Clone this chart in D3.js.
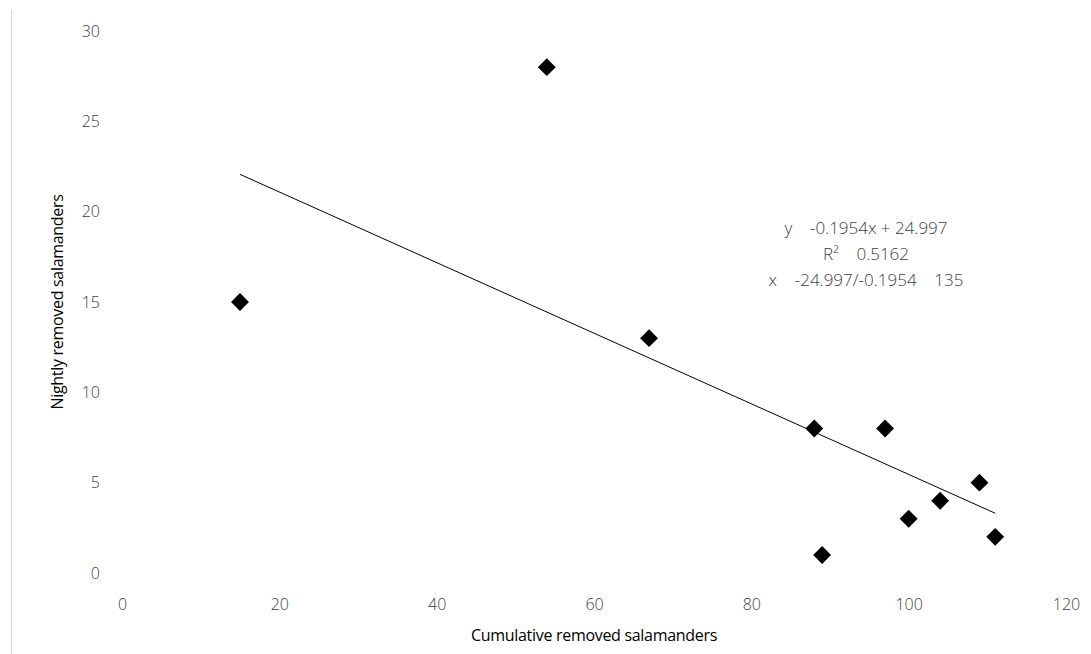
<!DOCTYPE html>
<html>
<head>
<meta charset="utf-8">
<script src="https://cdn.jsdelivr.net/npm/d3@7"></script>
<style>
	body { margin: 0; background: #fff; }
	.tick text { font-family: "Open Sans", Lato, sans-serif; font-size: 16px; font-weight: 300; fill: #404040; }
	.title { font-family: "Open Sans", Lato, sans-serif; font-size: 16px; fill: #000; letter-spacing: -0.3px; }
	.eq { font-family: "Open Sans", Lato, sans-serif; font-size: 17px; font-weight: 300; fill: #404040; white-space: pre; }
</style>
</head>
<body>
<div id="chart"></div>
<script>
// cumulative removed (x) and nightly removed (y)
var cumulative = [15, 54, 67, 88, 89, 97, 100, 104, 109, 111];
var nightly    = [15, 28, 13, 8, 1, 8, 3, 4, 5, 2];
var xTicks = [0, 20, 40, 60, 80, 100, 120];
var yTicks = [0, 5, 10, 15, 20, 25, 30];
var slope = -0.1954, intercept = 24.997;
var eqLines = ['y    -0.1954x + 24.997', 'R\u00b2    0.5162', 'x    -24.997/-0.1954    135'];

var width = 1091, height = 654;
var margin = {top: 31, right: 25, bottom: 81, left: 122};

var svg = d3.select('#chart').append('svg')
	.attr('width', width)
	.attr('height', height);

// chart border edge
svg.append('line')
	.attr('x1', 11.5).attr('x2', 11.5)
	.attr('y1', 10).attr('y2', height)
	.attr('stroke', '#d9d9d9');

var x = d3.scaleLinear().domain([0, 120]).range([margin.left, width - margin.right]);
var y = d3.scaleLinear().domain([0, 30]).range([height - margin.bottom, margin.top]);

var xAxis = svg.append('g')
	.attr('transform', 'translate(0,' + (height - margin.bottom) + ')')
	.call(d3.axisBottom(x).tickValues(xTicks).tickSize(0).tickPadding(26));
xAxis.select('.domain').remove();

var yAxis = svg.append('g')
	.attr('transform', 'translate(' + margin.left + ',0)')
	.call(d3.axisLeft(y).tickValues(yTicks).tickSize(0).tickPadding(22));
yAxis.select('.domain').remove();

// trend line
var line = d3.line()
	.x(function (d) { return x(d); })
	.y(function (d) { return y(slope * d + intercept); });
svg.append('path')
	.attr('d', line(d3.extent(cumulative)))
	.attr('fill', 'none')
	.attr('stroke', '#000')
	.attr('stroke-width', 1);

// points
var diamond = d3.symbol().type(d3.symbolSquare).size(160);
svg.selectAll('.pt')
	.data(cumulative)
	.enter().append('path')
		.attr('class', 'pt')
		.attr('d', diamond)
		.attr('transform', function (d, i) { return 'translate(' + x(d) + ',' + y(nightly[i]) + ') rotate(45)'; })
		.attr('fill', '#000');

// equation text
svg.selectAll('.eq')
	.data(eqLines)
	.enter().append('text')
		.attr('class', 'eq')
		.attr('x', 866)
		.attr('y', function (d, i) { return 234 + i * 26; })
		.attr('text-anchor', 'middle')
		.text(function (d) { return d; });

// axis titles
svg.append('text')
	.attr('class', 'title')
	.attr('x', (margin.left + width - margin.right) / 2)
	.attr('y', 641)
	.attr('text-anchor', 'middle')
	.text('Cumulative removed salamanders');

svg.append('text')
	.attr('class', 'title')
	.attr('transform', 'translate(63,' + ((margin.top + height - margin.bottom) / 2) + ') rotate(-90)')
	.attr('text-anchor', 'middle')
	.text('Nightly removed salamanders');
</script>
</body>
</html>
